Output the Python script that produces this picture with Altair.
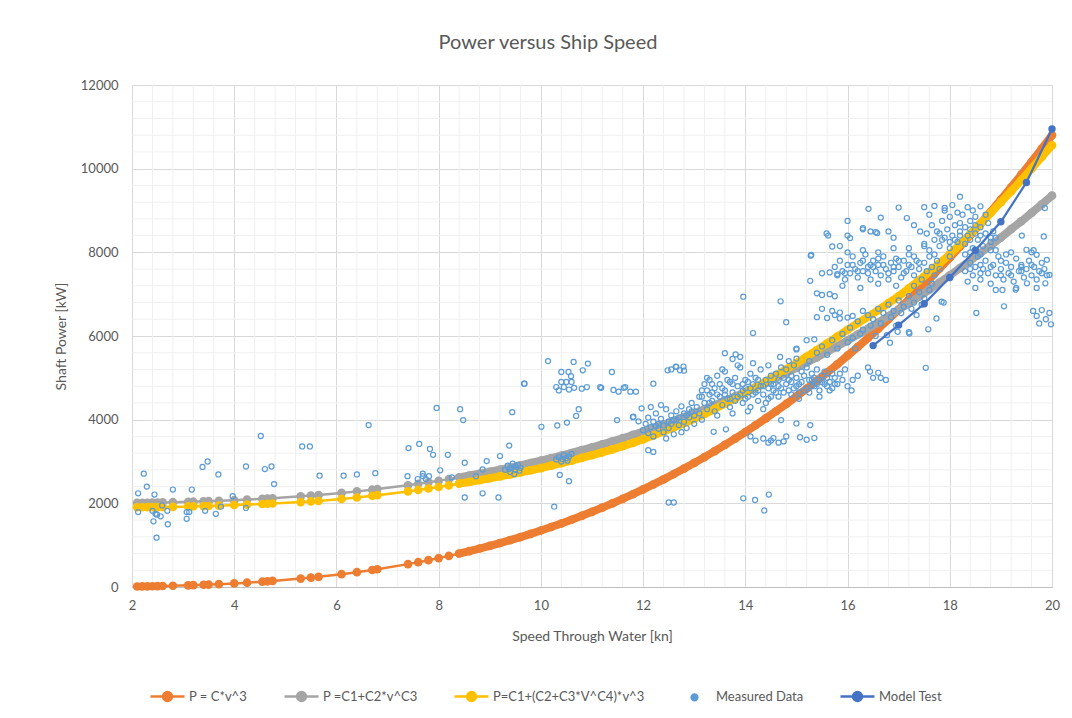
import altair as alt
import pandas as pd

# ---------------- data ----------------
series_names = ["P = C*v^3", "P =C1+C2*v^C3", "P=C1+(C2+C3*V^C4)*v^3", "Measured Data", "Model Test"]
series_colors = ["#ED7D31", "#A5A5A5", "#FFC000", "#5B9BD5", "#4472C4"]

fit_speed = [2.1, 2.2, 2.3, 2.4, 2.5, 2.6, 2.8, 3.1, 3.2, 3.4, 3.5, 3.7, 4.0, 4.25, 4.55, 4.65, 4.75,
             5.3, 5.5, 5.65, 6.1, 6.4, 6.7, 6.8, 7.4, 7.6, 7.8,
             8.0, 8.2, 8.4, 8.6, 8.8, 9.0, 9.2, 9.4, 9.6, 9.8, 10.0, 10.2, 10.4, 10.6, 10.8,
             11.0, 11.2, 11.4, 11.6, 11.8, 12.0, 12.2, 12.4, 12.6, 12.8, 13.0, 13.2, 13.4, 13.6, 13.8,
             14.0, 14.2, 14.4, 14.6, 14.8, 15.0, 15.2, 15.4, 15.6, 15.8, 16.0, 16.2, 16.4, 16.6, 16.8,
             17.0, 17.2, 17.4, 17.6, 17.8, 18.0, 18.2, 18.4, 18.6, 18.8, 19.0, 19.2, 19.4, 19.6, 19.8, 20.0]

p_cubic = [13, 14, 16, 19, 21, 24, 30, 40, 44, 53, 58, 68, 86, 104, 127, 136, 145,
           201, 225, 243, 306, 354, 406, 424, 547, 593, 641,
           691, 744, 800, 859, 920, 984, 1051, 1121, 1194, 1271, 1350, 1433, 1519, 1608, 1701,
           1797, 1897, 2000, 2107, 2218, 2333, 2451, 2574, 2700, 2831, 2966, 3105, 3248, 3396, 3548,
           3704, 3866, 4031, 4201, 4376, 4556, 4741, 4930, 5125, 5324, 5530, 5739, 5954, 6175, 6400,
           6633, 6869, 7112, 7360, 7614, 7873, 8138, 8410, 8687, 8970, 9260, 9555, 9857, 10165, 10479, 10800]

p_power = [2012, 2013, 2015, 2018, 2020, 2022, 2027, 2036, 2039, 2047, 2051, 2060, 2075, 2089, 2108, 2115, 2122,
           2167, 2186, 2200, 2249, 2286, 2326, 2340, 2433, 2467, 2503,
           2540, 2579, 2621, 2664, 2708, 2756, 2804, 2855, 2907, 2964, 3020, 3079, 3141, 3204, 3271,
           3339, 3409, 3482, 3557, 3635, 3715, 3799, 3884, 3971, 4061, 4156, 4251, 4348, 4452, 4555,
           4659, 4772, 4882, 5000, 5120, 5239, 5366, 5490, 5623, 5753, 5893, 6035, 6174, 6323, 6474,
           6630, 6781, 6943, 7108, 7277, 7448, 7623, 7803, 7985, 8162, 8352, 8555, 8742, 8943, 9147, 9355]

p_poly = [1906, 1907, 1908, 1909, 1910, 1911, 1915, 1927, 1929, 1934, 1937, 1945, 1960, 1970, 1985, 1990, 1995,
          2030, 2045, 2055, 2105, 2140, 2180, 2195, 2285, 2320, 2355,
          2390, 2430, 2470, 2510, 2555, 2600, 2645, 2690, 2740, 2790, 2840, 2900, 2960, 3020, 3085,
          3150, 3220, 3290, 3365, 3445, 3530, 3620, 3715, 3815, 3915, 4020, 4135, 4255, 4380, 4505,
          4640, 4775, 4915, 5060, 5205, 5350, 5505, 5665, 5825, 5985, 6150, 6305, 6460, 6620, 6785,
          6950, 7140, 7330, 7530, 7735, 7950, 8190, 8435, 8685, 8940, 9200, 9460, 9730, 10000, 10280, 10560]

model_speed = [16.5, 17.0, 17.5, 18.0, 18.5, 19.0, 19.5, 20.0]
model_power = [5770, 6260, 6770, 7400, 8050, 8730, 9670, 10950]

meas_low = [(2.12, 2240), (2.23, 2710), (2.29, 2400), (2.44, 2210), (2.12, 1790), (2.40, 1820), (2.46, 1750),
            (2.42, 1570), (2.49, 1730), (2.56, 1690), (2.48, 1180), (2.59, 1950), (2.69, 1820), (2.70, 1500),
            (2.80, 2330), (3.07, 1790), (3.12, 1790), (3.07, 1630), (3.17, 2330), (3.38, 2870), (3.48, 3000),
            (3.43, 1820), (3.64, 1750), (3.69, 2690), (3.74, 1920), (3.97, 2170), (4.23, 2880), (4.23, 1890),
            (4.52, 3610), (4.60, 2820), (4.73, 2880), (4.78, 2460), (5.33, 3360), (5.48, 3360), (5.67, 2660),
            (6.14, 2660), (6.40, 2690), (6.63, 3870), (6.76, 2720), (7.41, 3320), (7.62, 3420), (7.83, 3300),
            (7.89, 3160), (7.39, 2650), (7.59, 2580), (7.69, 2710), (7.69, 2650), (7.75, 2580), (7.81, 2650),
            (7.96, 4280)]

meas_mid = [(8.42, 4250), (8.48, 3990), (9.44, 4180), (9.68, 4860), (8.18, 3160), (9.38, 3380), (10.01, 3830),
            (10.32, 3860), (10.51, 3930), (10.69, 4090), (10.74, 4250), (8.51, 2970), (8.94, 3010), (9.20, 3130),
            (8.86, 2810), (8.73, 2650), (8.26, 2620), (8.03, 2790), (8.51, 2140), (8.86, 2240), (9.17, 2140),
            (10.37, 2680), (10.55, 2530), (10.26, 1920), (11.49, 3990), (11.80, 4060), (11.91, 3960),
            (10.14, 5400), (10.64, 5380), (10.92, 5340), (10.82, 5180), (10.40, 5140), (10.54, 5140),
            (10.59, 5040), (9.67, 4860), (11.39, 5140), (10.40, 4900), (10.50, 4900), (10.60, 4900),
            (10.30, 4780), (10.45, 4780), (10.55, 4720), (10.80, 4740), (10.90, 4780), (10.35, 4700),
            (10.65, 4760), (11.18, 4760), (11.42, 4710), (11.52, 4670), (11.62, 4760), (11.75, 4670),
            (11.86, 4670), (11.16, 4780), (11.65, 4780), (11.97, 4270), (11.81, 4070),
            (9.30, 2800), (9.35, 2900), (9.40, 2750), (9.42, 2850), (9.45, 2950), (9.50, 2800), (9.50, 2880),
            (9.55, 2920), (9.58, 2780), (9.60, 2850), (9.38, 2820), (9.48, 2700),
            (10.30, 3050), (10.35, 3100), (10.40, 3000), (10.45, 3150), (10.50, 3080), (10.52, 3020),
            (10.55, 3120), (10.60, 3180), (10.42, 3060)]

meas_12_13 = [(12.0, 3750), (12.05, 3900), (12.1, 3680), (12.1, 4050), (12.15, 3820), (12.2, 3950), (12.2, 3600),
              (12.25, 4150), (12.3, 3780), (12.3, 3900), (12.35, 4020), (12.4, 3700), (12.4, 3860), (12.45, 4250),
              (12.5, 3950), (12.5, 3800), (12.55, 4100), (12.6, 3650), (12.6, 3980), (12.65, 4200), (12.7, 3870),
              (12.7, 4050), (12.75, 4320), (12.8, 3950), (12.8, 4150), (12.85, 3800), (12.9, 4250), (12.9, 4050),
              (12.95, 4400), (13.0, 4100), (13.0, 3900), (12.15, 4300), (12.45, 3550), (12.75, 3700), (12.35, 4350),
              (12.25, 3850), (12.55, 3900), (12.65, 4000), (12.85, 4100), (12.95, 4200)]

meas_13_15 = [(13.05, 4300), (13.1, 4550), (13.1, 4150), (13.15, 4700), (13.2, 4400), (13.2, 4850), (13.25, 4250),
              (13.3, 4600), (13.3, 4950), (13.35, 4450), (13.4, 4750), (13.4, 4200), (13.45, 5050), (13.5, 4550),
              (13.5, 4850), (13.55, 4350), (13.6, 4700), (13.6, 5150), (13.65, 4500), (13.7, 4900), (13.7, 4300),
              (13.75, 4650), (13.8, 5000), (13.8, 4450), (13.85, 4800), (13.9, 4600), (13.9, 5250), (13.95, 4400),
              (14.0, 4750), (14.0, 4950), (14.05, 4550), (14.1, 5100), (14.1, 4300), (14.15, 4850), (14.2, 4650),
              (14.2, 5000), (14.25, 4450), (14.3, 4800), (14.3, 5200), (14.35, 4600), (14.4, 4950), (14.4, 4400),
              (14.45, 4750), (14.5, 5050), (14.5, 4550), (13.25, 5000), (13.55, 5200), (13.85, 5300),
              (14.15, 5350), (14.45, 5300), (13.15, 4000), (13.45, 4100), (13.75, 4150), (14.05, 4200),
              (14.35, 4250), (13.6, 4600), (13.95, 4850), (14.25, 4700), (13.35, 4650), (14.0, 4500),
              (13.15, 4550), (13.25, 4700), (13.35, 4850), (13.45, 4600), (13.55, 4750), (13.65, 4950),
              (13.75, 4850), (13.85, 4550), (13.95, 4700), (14.05, 4900), (14.15, 4600), (14.25, 4950),
              (14.35, 4800), (14.45, 4500), (13.3, 4400), (13.7, 4500), (14.1, 4750), (14.5, 4850)]

meas_15_16 = [(14.55, 4850), (14.6, 5100), (14.6, 4650), (14.65, 4950), (14.7, 5250), (14.7, 4750), (14.75, 5000),
              (14.8, 4850), (14.8, 5200), (14.85, 4700), (14.9, 5050), (14.9, 4900), (14.95, 5300), (15.0, 4800),
              (15.0, 5000), (15.05, 4650), (15.1, 5150), (15.1, 4900), (15.15, 5050), (15.2, 4750), (15.2, 5250),
              (15.25, 4950), (15.3, 5100), (15.3, 4800), (15.35, 5000), (15.4, 4850), (15.4, 5200), (15.45, 4700),
              (15.5, 5050), (15.5, 4900), (15.55, 5150), (15.6, 4800), (15.6, 5000), (15.65, 4900), (15.7, 5100),
              (15.7, 4750), (15.75, 5000), (15.8, 4850), (15.85, 5100), (15.9, 4950), (14.65, 4550), (15.05, 4500),
              (15.45, 4550), (14.85, 5400), (15.25, 5400), (16.0, 4800), (16.08, 4700), (15.95, 5200),
              (16.2, 5050), (16.4, 5250), (16.5, 5000), (16.1, 4950),
              (14.55, 4700), (14.65, 4800), (14.75, 4650), (14.85, 4950), (14.95, 4750), (15.05, 4850),
              (15.15, 4700), (15.25, 4650), (15.35, 4800), (15.45, 4950), (15.55, 4850), (15.65, 4700),
              (15.75, 4850), (14.9, 4600), (15.3, 4950)]

meas_fit_band = [(15.4, 5600), (15.5, 5750), (15.6, 5550), (15.7, 5900), (15.8, 5700), (15.9, 6050), (16.0, 5850),
                 (16.05, 6200), (16.1, 5950), (16.2, 6350), (16.25, 6050), (16.3, 6150), (16.4, 6500), (16.45, 6250),
                 (16.5, 6400), (16.6, 6650), (16.65, 6300), (16.7, 6550), (16.8, 6750), (16.85, 6450), (16.9, 6600),
                 (17.0, 6850), (17.05, 6550), (17.1, 6700), (17.2, 6950), (17.25, 6650), (17.3, 6800), (17.4, 7050),
                 (17.45, 6750), (17.5, 6900), (17.6, 7100), (16.15, 5700), (16.55, 6000), (16.95, 6250),
                 (17.35, 6500)]

meas_16_18 = [(15.75, 7650), (15.8, 7450), (15.85, 7800), (15.9, 7550), (15.95, 7350), (16.0, 7700), (16.05, 7500),
              (16.1, 7900), (16.15, 7600), (16.2, 7400), (16.25, 7750), (16.3, 7550), (16.35, 7950), (16.4, 7650),
              (16.45, 7350), (16.5, 7800), (16.55, 7550), (16.6, 7700), (16.65, 7450), (16.7, 7900), (16.75, 7600),
              (16.8, 7350), (16.85, 7750), (16.9, 7550), (16.95, 7850), (17.0, 7650), (17.05, 7400), (17.1, 7800),
              (17.15, 7550), (17.2, 7950), (17.25, 7650), (17.3, 7450), (17.35, 7800), (17.4, 7600), (17.45, 7350),
              (17.5, 7750), (17.55, 7550), (17.6, 7900), (17.65, 7650), (17.7, 7450), (17.75, 7800), (17.8, 7600),
              (16.0, 8000), (16.3, 8050), (16.6, 8000), (16.9, 8100), (17.2, 8100), (17.5, 8150), (15.9, 7200),
              (16.25, 7150), (16.6, 7250), (16.95, 7200), (17.3, 7200), (17.65, 7250), (16.45, 7700),
              (16.1, 7700), (16.2, 7550), (16.3, 7800), (16.4, 7500), (16.5, 7650), (16.6, 7850), (16.7, 7700),
              (16.8, 7500), (16.9, 7650), (17.0, 7800), (17.1, 7500), (17.2, 7700), (17.3, 7900), (17.4, 7750)]

meas_18_upper = [(17.5, 8200), (17.55, 8450), (17.6, 8050), (17.65, 8650), (17.7, 8300), (17.75, 8500), (17.8, 8150),
                 (17.85, 8750), (17.9, 8350), (17.95, 8550), (18.0, 8100), (18.0, 8850), (18.05, 8400), (18.1, 8650),
                 (18.15, 8250), (18.2, 8500), (18.25, 8900), (18.3, 8200), (18.3, 8600), (18.35, 8400), (18.4, 8750),
                 (18.45, 8100), (18.5, 8450), (18.5, 8850), (18.55, 8300), (18.6, 8600), (18.65, 8150), (18.7, 8450),
                 (18.75, 8700), (18.8, 8250), (18.85, 8500), (18.9, 8350), (17.6, 8900), (17.9, 9000), (18.15, 8950),
                 (18.45, 9000), (18.7, 8900), (17.7, 7950), (18.0, 7900), (18.3, 7950), (18.6, 7950), (18.9, 8050),
                 (18.1, 8300), (18.4, 8300), (17.85, 8300), (18.2, 8400), (18.4, 8550), (18.6, 8400), (18.8, 8350),
                 (18.0, 8250), (17.8, 8450), (18.2, 8700), (18.5, 8650)]

meas_19 = [(18.3, 7550), (18.35, 7300), (18.4, 7750), (18.45, 7450), (18.5, 7650), (18.55, 7900), (18.6, 7350),
           (18.65, 7600), (18.7, 7800), (18.75, 7500), (18.8, 7250), (18.85, 7700), (18.9, 7450), (18.95, 7900),
           (19.0, 7600), (19.05, 7350), (19.1, 7750), (19.15, 7500), (19.2, 7650), (19.25, 7300), (19.3, 7850),
           (19.35, 7550), (19.4, 7700), (19.45, 7400), (19.5, 7600), (19.55, 7800), (19.6, 7450), (19.65, 7650),
           (19.7, 7350), (19.75, 7550), (19.8, 7750), (18.4, 8000), (18.8, 8050), (19.2, 8000), (19.6, 8000),
           (18.5, 7150), (18.9, 7100), (19.3, 7150), (19.7, 7150), (19.0, 7450), (19.4, 7550), (18.6, 7700),
           (19.1, 7950), (19.85, 7600), (19.9, 7450), (18.4, 7600), (18.6, 7500), (18.8, 7650), (19.0, 7800),
           (19.2, 7450), (19.4, 7650), (19.6, 7700), (19.8, 7500)]

meas_high = [(12.2, 4860), (12.48, 5180), (12.64, 5270), (12.79, 5270), (12.72, 5180), (12.65, 5260), (12.8, 5170),
             (12.55, 5200), (13.6, 5590), (13.81, 5560), (13.75, 5450), (13.9, 5500), (14.68, 5500), (15.0, 5680),
             (15.0, 5460), (13.96, 6940), (14.69, 6830), (14.8, 6330), (14.15, 6070), (15.28, 7920), (15.27, 7320),
             (15.5, 7500), (15.65, 7520), (15.8, 7480), (15.95, 7500), (15.4, 7020), (15.5, 6980), (15.65, 7000),
             (15.75, 6950), (15.4, 6450), (15.6, 6430), (15.75, 6500), (15.85, 6420), (16.0, 6440), (15.2, 5900),
             (15.35, 5920), (12.1, 3270), (12.2, 3230), (12.5, 2020), (12.6, 2020), (13.38, 3710), (13.62, 3770),
             (14.1, 3600), (14.2, 3500), (14.35, 3550), (14.45, 3450), (14.5, 3500), (14.55, 3560), (14.65, 3450),
             (14.75, 3480), (14.8, 3600), (14.7, 3990), (15.0, 3910), (15.27, 3870), (15.07, 3580), (15.2, 3520),
             (15.35, 3560), (13.96, 2120), (14.19, 2080), (14.46, 2210), (14.37, 1830), (17.53, 5240),
             (18.52, 6550), (19.06, 6710), (19.63, 6600), (19.7, 6480), (19.75, 6300), (19.8, 6620), (19.88, 6400),
             (19.95, 6550), (19.98, 6280), (16.41, 9040), (17.0, 9070), (18.2, 9330), (17.5, 9080), (17.7, 9110),
             (17.9, 9060), (18.05, 9130), (18.35, 9080), (18.6, 9100), (16.0, 8750), (16.65, 8830), (15.59, 8450),
             (15.62, 8400), (15.29, 7940), (15.7, 8140), (15.85, 8150), (16.05, 8340), (16.3, 8580), (16.45, 8500),
             (16.58, 8460), (17.16, 8820), (17.3, 8650), (17.42, 8500), (19.41, 8400), (19.84, 8380), (19.86, 9060),
             (19.5, 8060), (19.64, 8050), (19.7, 7940), (19.9, 7820), (19.95, 7460), (19.87, 7260), (19.51, 7260),
             (19.03, 7100), (19.29, 7110), (16.77, 6020), (16.98, 6100), (17.2, 6090), (17.58, 6160), (17.74, 6420),
             (17.84, 6820), (17.88, 6800), (17.21, 6060), (16.83, 5840), (16.44, 5150), (16.6, 5120), (16.75, 4950),
             (16.65, 5000), (15.5, 6650), (15.7, 6600), (15.85, 6560), (16.1, 6480), (16.3, 6600), (15.0, 5700),
             (16.0, 8400), (16.3, 8550), (16.55, 8480), (16.8, 8500), (16.9, 8350)]

x_major = [2, 4, 6, 8, 10, 12, 14, 16, 18, 20]
y_major = [0, 2000, 4000, 6000, 8000, 10000, 12000]
x_minor = [2.4, 2.8, 3.2, 3.6, 4.4, 4.8, 5.2, 5.6, 6.4, 6.8, 7.2, 7.6, 8.4, 8.8, 9.2, 9.6,
           10.4, 10.8, 11.2, 11.6, 12.4, 12.8, 13.2, 13.6, 14.4, 14.8, 15.2, 15.6, 16.4, 16.8, 17.2, 17.6,
           18.4, 18.8, 19.2, 19.6]
y_minor = [400, 800, 1200, 1600, 2400, 2800, 3200, 3600, 4400, 4800, 5200, 5600, 6400, 6800, 7200, 7600,
           8400, 8800, 9200, 9600, 10400, 10800, 11200, 11600]

# ---------------- tables ----------------
fits = pd.concat([
    pd.DataFrame({"speed": fit_speed, "power": vals, "series": name})
    for name, vals in zip(series_names[:3], [p_cubic, p_power, p_poly])
], ignore_index=True)

all_meas = (meas_low + meas_mid + meas_12_13 + meas_13_15 + meas_15_16 + meas_fit_band
            + meas_16_18 + meas_18_upper + meas_19 + meas_high)
measured = pd.DataFrame({"speed": [p[0] for p in all_meas], "power": [p[1] for p in all_meas],
                         "series": "Measured Data"})
model = pd.DataFrame({"speed": model_speed, "power": model_power, "series": "Model Test"})
xminor_df = pd.DataFrame({"speed": x_minor})
yminor_df = pd.DataFrame({"power": y_minor})

FONT = "Lato"
TXT = "#595959"

color_scale = alt.Scale(domain=series_names, range=series_colors)
x_scale = alt.Scale(domain=[2, 20], nice=False, zero=False)
y_scale = alt.Scale(domain=[0, 12000], nice=False)

x_enc = alt.X("speed:Q", scale=x_scale,
              axis=alt.Axis(values=x_major, format="d", labelOverlap=False, labelFlush=False, ticks=False,
                            domainColor="#BFBFBF", domainWidth=1, gridColor="#D9D9D9",
                            labelFont=FONT, labelFontSize=13, labelColor=TXT, labelPadding=12,
                            title="Speed Through Water [kn]", titleFont=FONT, titleFontSize=14,
                            titleFontWeight="normal", titleColor=TXT, titlePadding=17))
y_enc = alt.Y("power:Q", scale=y_scale,
              axis=alt.Axis(values=y_major, format="d", labelOverlap=False, labelFlush=False, ticks=False,
                            domain=False, gridColor="#D9D9D9",
                            labelFont=FONT, labelFontSize=13, labelColor=TXT, labelPadding=14,
                            title="Shaft Power [kW]", titleFont=FONT, titleFontSize=14,
                            titleFontWeight="normal", titleColor=TXT, titlePadding=12))

legend = alt.Legend(
    title=None, orient="none", legendX=17, legendY=593, direction="horizontal",
    symbolType=alt.ExprRef(expr="datum.label === 'Measured Data' ? "
                                "'M-0.17,0A0.17,0.17 0 1,0 0.17,0A0.17,0.17 0 1,0 -0.17,0Z' : "
                                "'M-1,0L1,0M-0.26,0A0.26,0.26 0 1,0 0.26,0A0.26,0.26 0 1,0 -0.26,0Z'"),
    symbolSize=1156, symbolStrokeWidth=2.5,
    symbolFillColor=alt.ExprRef(expr="datum.label === 'Measured Data' ? '#ffffff' : scale('color', datum.label)"),
    symbolStrokeColor=alt.ExprRef(expr="scale('color', datum.label)"),
    labelFont=FONT, labelFontSize=13, labelColor=TXT, labelOffset=3, columnPadding=31,
)

# minor gridlines (drawn from the minor tick lists through the shared scales)
vminor = alt.Chart(xminor_df).mark_rule(color="#F0F0F0", strokeWidth=1).encode(
    x=alt.X("speed:Q", scale=x_scale))
hminor = alt.Chart(yminor_df).mark_rule(color="#F0F0F0", strokeWidth=1).encode(
    y=alt.Y("power:Q", scale=y_scale))

layers = [vminor, hminor]
for i, name in enumerate(series_names[:3]):
    base = alt.Chart(fits).transform_filter(alt.datum.series == name).encode(
        x=x_enc, y=y_enc,
        color=alt.Color("series:N", scale=color_scale, legend=legend if i == 0 else None))
    layers.append(base.mark_line(strokeWidth=2.5))
    layers.append(base.transform_filter(alt.datum.speed >= 8.4).mark_line(strokeWidth=8, strokeCap="round"))
    layers.append(base.mark_point(filled=True, size=75, opacity=1))

meas_layer = alt.Chart(measured).mark_point(filled=False, size=26, strokeWidth=1.2, opacity=1).encode(
    x=x_enc, y=y_enc, color=alt.Color("series:N", scale=color_scale, legend=None))
model_line = alt.Chart(model).mark_line(strokeWidth=2.25).encode(
    x=x_enc, y=y_enc, color=alt.Color("series:N", scale=color_scale, legend=None))
model_pts = alt.Chart(model).mark_point(filled=True, size=55, opacity=1).encode(
    x=x_enc, y=y_enc, color=alt.Color("series:N", scale=color_scale, legend=None))

chart = alt.layer(*layers, meas_layer, model_line, model_pts).properties(
    width=920, height=502,
    title=alt.TitleParams("Power versus Ship Speed", font=FONT, fontSize=20, fontWeight="normal",
                          color=TXT, anchor="middle", offset=26, dx=-44),
    autosize=alt.AutoSizeParams(type="none"),
    padding={"left": 124, "top": 77, "right": 12, "bottom": 123},
).configure_view(strokeWidth=0).configure(background="white")

chart.save("out.html", embed_options={"renderer": "svg", "actions": False})
